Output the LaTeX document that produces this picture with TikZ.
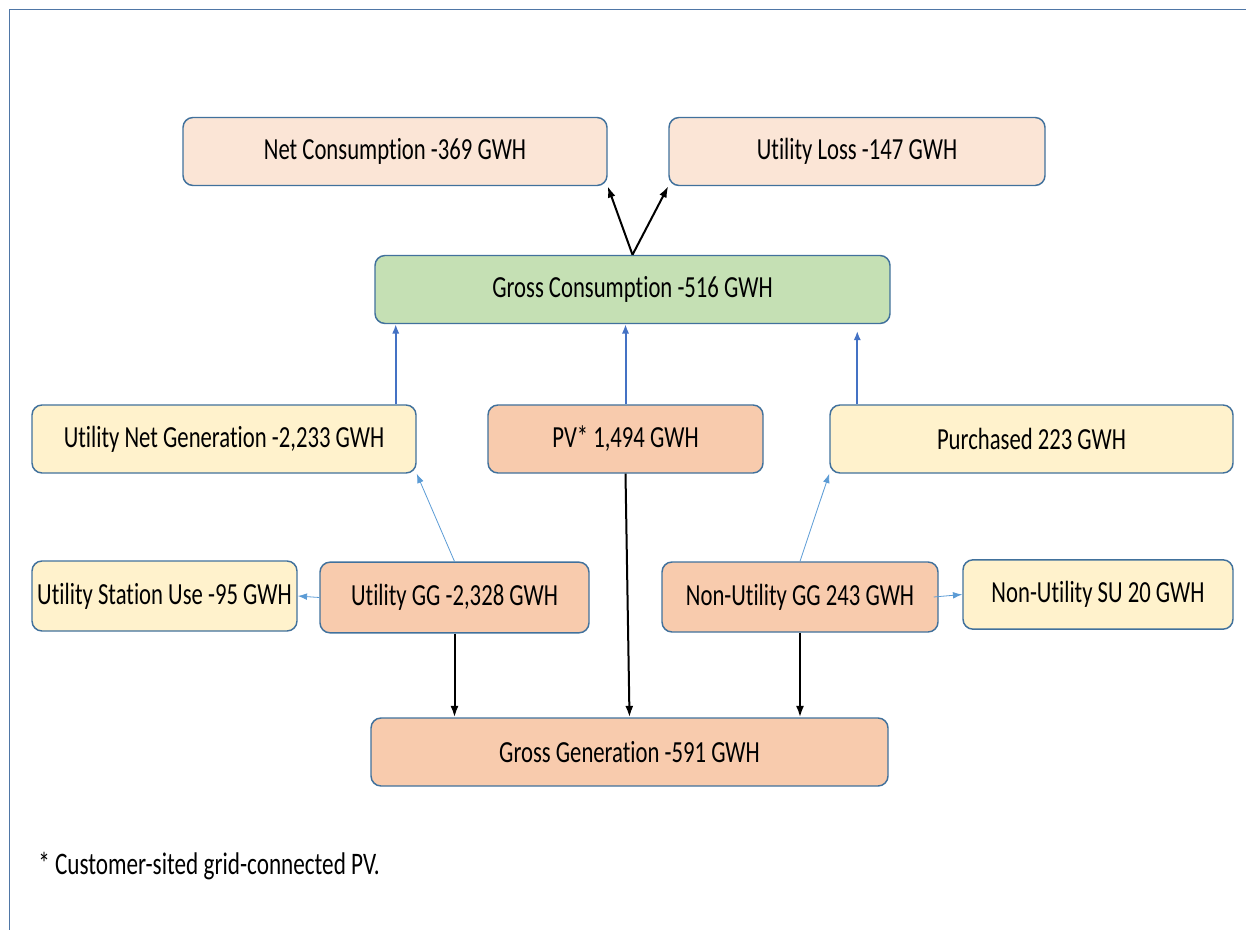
\documentclass[tikz,border=0pt]{standalone}
\usepackage{fontspec}
\setmainfont{Carlito}[FakeStretch=0.74,Ligatures=NoCommon]
\usetikzlibrary{arrows.meta}
\definecolor{boxline}{HTML}{41719C}
\definecolor{framecol}{HTML}{4F76A6}
\definecolor{lightpeach}{HTML}{FBE5D6}
\definecolor{peach}{HTML}{F8CBAD}
\definecolor{consgreen}{HTML}{C5E0B4}
\definecolor{lightyellow}{HTML}{FFF2CC}
\definecolor{feedblue}{HTML}{4472C4}
\definecolor{linkblue}{HTML}{5B9BD5}
\begin{document}
\begin{tikzpicture}[x=0.75pt,y=-0.75pt,
    box/.style={draw=boxline,line width=1.1pt,rounded corners=7.5pt,minimum height=51pt,inner sep=0pt,font=\fontsize{23}{27}\selectfont},
    blk/.style={-{Latex[length=8.5pt,width=6pt]},line width=1.5pt,black},
    feed/.style={-{Latex[length=7pt,width=5.5pt]},line width=1.5pt,feedblue},
    link/.style={-{Latex[length=7pt,width=5pt]},line width=0.6pt,linkblue}]
  \useasboundingbox (0,0) rectangle (1246,930);
  \draw[framecol,line width=0.8pt] (9.5,930) -- (9.5,9.5) -- (1246,9.5);

  \node[box,fill=lightpeach,minimum width=318pt] (netcons) at (395,151.5) {Net Consumption -369 GWH};
  \node[box,fill=lightpeach,minimum width=282pt] (loss) at (857,151.5) {Utility Loss -147 GWH};
  \node[box,fill=consgreen,minimum width=386.25pt] (grosscons) at (632.5,289.5) {Gross Consumption -516 GWH};
  \node[box,fill=lightyellow,minimum width=288pt] (unetgen) at (224,439) {Utility Net Generation -2,233 GWH};
  \node[box,fill=peach,minimum width=206.25pt] (pv) at (625.5,439) {PV* 1,494 GWH};
  \node[box,fill=lightyellow,minimum width=302.25pt] (purch) at (1031.5,439) {Purchased 223 GWH};
  \node[box,fill=lightyellow,minimum width=198.75pt,minimum height=52.5pt] (stationuse) at (164.5,596) {Utility Station Use -95 GWH};
  \node[box,fill=peach,minimum width=201.75pt,minimum height=53pt] (utilgg) at (454.5,597.5) {Utility GG -2,328 GWH};
  \node[box,fill=peach,minimum width=207pt,minimum height=52.5pt] (nongg) at (800,597) {Non-Utility GG 243 GWH};
  \node[box,fill=lightyellow,minimum width=202.5pt,minimum height=52pt] (nonsu) at (1098,594.5) {Non-Utility SU 20 GWH};
  \node[box,fill=peach,minimum width=387.75pt] (grossgen) at (629.5,752) {Gross Generation -591 GWH};
  \node[anchor=west,inner sep=0pt,font=\fontsize{23.5}{27}\selectfont] (note) at (38,866) {* Customer-sited grid-connected PV.};

  \draw[blk] (grosscons.north) -- (netcons.south east);
  \draw[blk] (grosscons.north) -- (loss.south west);
  \draw[feed] ([xshift=-15.75pt]unetgen.north east) coordinate (a1) -- (a1 |- grosscons.south);
  \draw[feed] (pv.north) -- (pv.north |- grosscons.south);
  \draw[feed,shorten >=5pt] ([xshift=21pt]purch.north west) coordinate (a2) -- (a2 |- grosscons.south);
  \draw[link] (utilgg.north) -- (unetgen.south east);
  \draw[link] (nongg.north) -- (purch.south west);
  \draw[link] (utilgg.west) -- (stationuse.east);
  \draw[link] ([xshift=-3.75pt]nongg.east) -- (nonsu.west);
  \draw[blk] (utilgg.south) -- (utilgg.south |- grossgen.north);
  \draw[blk] (pv.south) -- (grossgen.north);
  \draw[blk] (nongg.south) -- (nongg.south |- grossgen.north);
\end{tikzpicture}
\end{document}
